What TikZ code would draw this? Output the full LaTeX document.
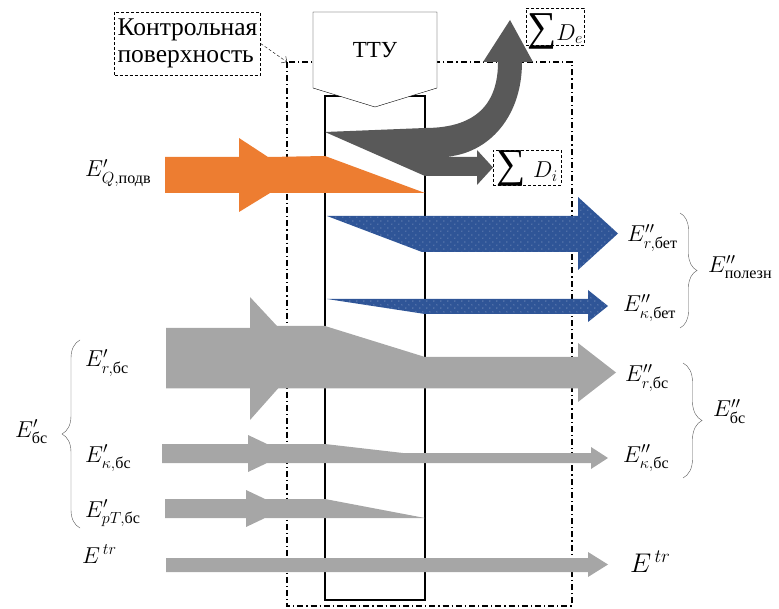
\documentclass[tikz,border=0pt]{standalone}
\usepackage{fix-cm}
\usepackage{amsmath,amssymb}
\usepackage{fontspec}
\setmainfont{Liberation Serif}
\usepackage{tikz}
\usetikzlibrary{arrows.meta,positioning,calc,decorations.pathreplacing,patterns.meta}
\definecolor{flowor}{HTML}{ED7D31}
\definecolor{flowdk}{HTML}{595959}
\definecolor{flowgr}{HTML}{A6A6A6}
\definecolor{flowbl}{HTML}{2F5597}
\pgfdeclarepattern{
  name=sparsedots, type=uncolored,
  bottom left={\pgfpoint{-1pt}{-1pt}}, top right={\pgfpoint{6pt}{6pt}},
  tile size={\pgfpoint{7pt}{7pt}},
  code={\pgfpathcircle{\pgfpoint{0pt}{0pt}}{0.55pt}
        \pgfpathcircle{\pgfpoint{3.5pt}{3.5pt}}{0.55pt}\pgfusepath{fill}}}
\newcommand{\bigsum}{\text{\fontsize{41}{41}\selectfont ∑}}
\tikzset{
  flow/.style={fill=#1, draw=none},
  flow/.default={flowgr},
  dotflow/.style={fill=flowbl, draw=none,
                  postaction={pattern=sparsedots, pattern color=white!70!flowbl}},
  lbl/.style={inner sep=0pt, anchor=base west, font=\fontsize{23}{27}\selectfont},
  tag/.style={draw, densely dashed, thin, inner sep=1pt, font=\fontsize{23}{27}\selectfont},
  surf/.style={line width=1.1pt, dash pattern=on 6pt off 3pt on 1.2pt off 3pt},
  brc/.style={decorate, decoration={brace, amplitude=#1}, draw=black!65, thin},
}
\begin{document}
\begin{tikzpicture}[x=1pt,y=-1pt]
\useasboundingbox (0,0) rectangle (779,609);
\draw[surf] (287,62) rectangle (572,606);
\coordinate (cs) at (287,62);
\draw[line width=2.4pt] (325,96) rectangle (425,600);
\draw[thin, fill=white] (313,12) -- (437,12) -- (437,88) -- (375,107) -- (313,88) -- cycle;
\node[font=\fontsize{23}{26}\selectfont] (ttu) at (375,50) {ТТУ};
\node[tag, align=left, minimum width=145pt, minimum height=63pt, inner sep=3pt,
      font=\fontsize{25.5}{27}\selectfont] (kp) at (187.5,43.5) {Контрольная\\поверхность};
\draw[densely dashed, thin, -{Straight Barb[length=4pt]}] (kp.east) -- (cs);
\fill[flow=flowor] (165,157) -- (239,157) -- (239,138) -- (268,157) -- (325,156) -- (425,193)
  -- (270,193) -- (239,212) -- (239,193) -- (165,193) -- cycle;
\fill[flow=flowdk] (325,132) -- (425,128) .. controls (480,128) and (498,100) .. (498,62)
  -- (483,62) -- (510,20) -- (533,62) -- (522,62) .. controls (522,120) and (485,157) .. (440,157)
  -- (477,157) -- (477,150) -- (493,167.5) -- (477,185) -- (477,176) -- (425,176) -- cycle;
\fill[dotflow] (327,216) -- (578,216) -- (578,197) -- (618,233.5) -- (578,270) -- (578,252)
  -- (422,252) -- cycle;
\fill[dotflow] (327,299) -- (588,299) -- (588,290) -- (608,306) -- (588,322) -- (588,314)
  -- (425,314) -- cycle;
\fill[flow] (166,328) -- (250,328) -- (250,297) -- (277,326) -- (325,326) -- (425,357)
  -- (578,357) -- (578,343) -- (616,372.5) -- (578,402) -- (578,388.5) -- (278,388.5)
  -- (250,420) -- (250,388.5) -- (166,388.5) -- cycle;
\fill[flow] (162,444) -- (248,444) -- (248,435) -- (267,444) -- (325,444) -- (403,453)
  -- (591,453) -- (591,447) -- (608,458) -- (591,469) -- (591,463) -- (267,463)
  -- (248,472) -- (248,463) -- (162,463) -- cycle;
\fill[flow] (165,499) -- (246,499) -- (246,490) -- (265,499) -- (325,499) -- (425,518)
  -- (265,518) -- (246,527) -- (246,518) -- (165,518) -- cycle;
\fill[flow] (166,558) -- (588,558) -- (588,552) -- (608,564.5) -- (588,577) -- (588,572)
  -- (166,572) -- cycle;
\node[tag, minimum width=58pt, minimum height=37pt, text height=30pt, text depth=2pt,
      inner sep=0pt] (de) at (555,26.5) {$\bigsum D_e$};
\node[tag, minimum width=68pt, minimum height=35pt, text height=26pt, text depth=5pt,
      inner sep=0pt] (di) at (527,167.5) {$\bigsum\,\, D_i$};
\node[lbl] (eq) at (85,177) {$E'_{Q,\text{подв}}$};
\node[lbl] (erbet) at (627,242) {$E''_{r,\text{бет}}$};
\node[lbl] (ekbet) at (623,312) {$E''_{\kappa,\text{бет}}$};
\node[lbl] (erbs2) at (625,382) {$E''_{r,\text{бс}}$};
\node[lbl] (ekbs2) at (623,462) {$E''_{\kappa,\text{бс}}$};
\node[lbl] (epol) at (708,273) {$E''_{\text{полезн}}$};
\node[lbl] (ebs2) at (713,417) {$E''_{\text{бс}}$};
\node[lbl] (ebs1) at (15,437) {$E'_{\text{бс}}$};
\node[lbl] (erbs1) at (85,367) {$E'_{r,\text{бс}}$};
\node[lbl] (ekbs1) at (85,462) {$E'_{\kappa,\text{бс}}$};
\node[lbl] (eptbs) at (85,517) {$E'_{pT,\text{бс}}$};
\node[lbl] (etr1) at (82,563) {$E^{\,tr}$};
\node[lbl, font=\fontsize{27}{31}\selectfont] (etr2) at (630,572) {$E^{\,tr}$};
\draw[brc=18pt] (80,528) -- (80,340);
\draw[brc=17pt] (680,213) -- (680,328);
\draw[brc=19pt] (683,363) -- (683,478);
\end{tikzpicture}
\end{document}
